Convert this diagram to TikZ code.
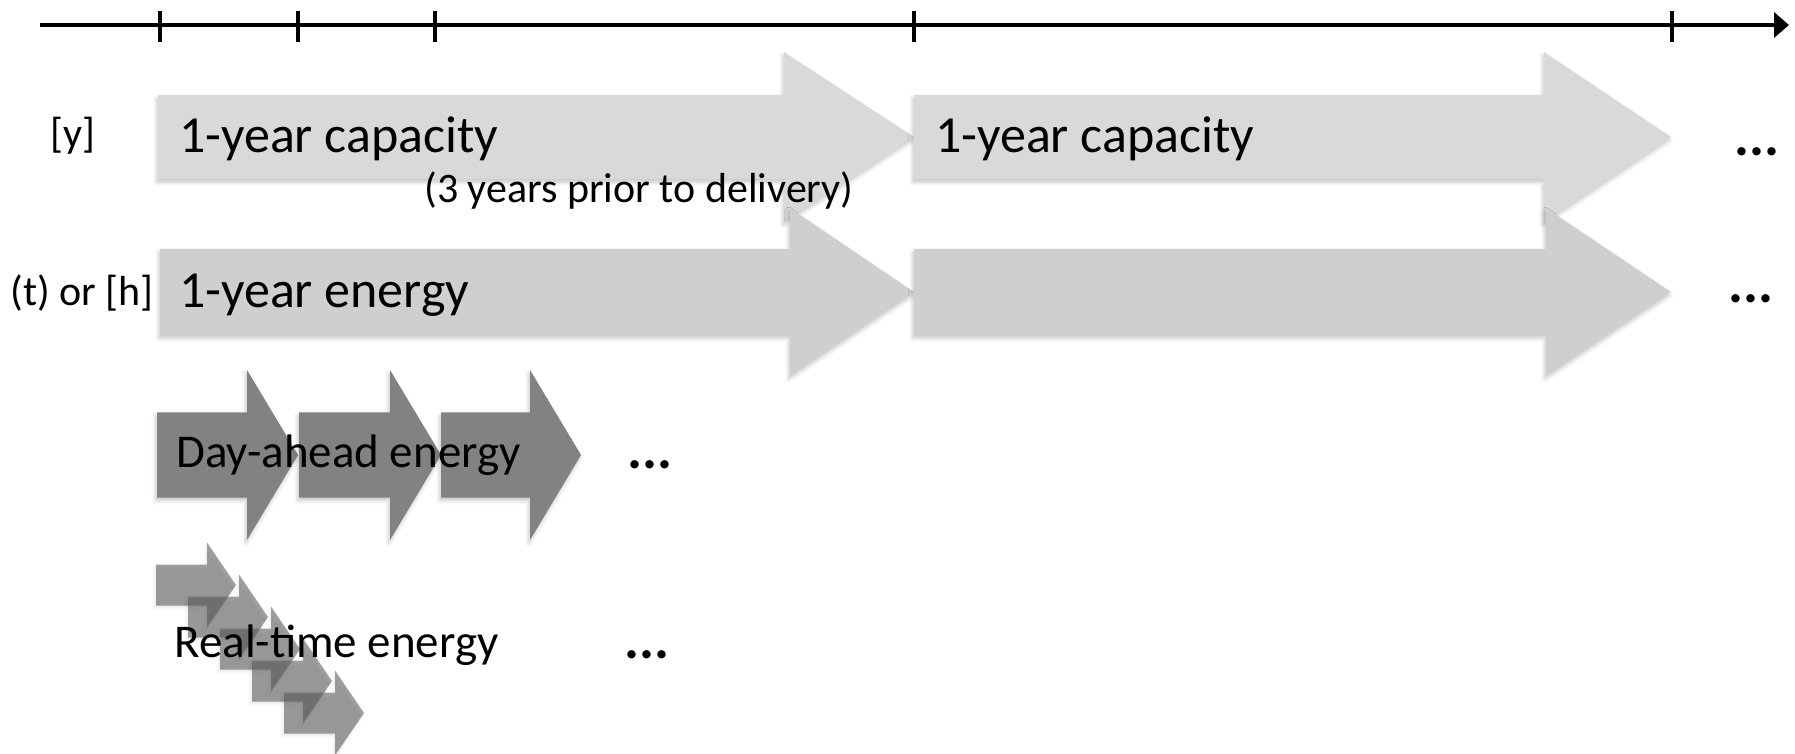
\documentclass[tikz,border=0pt]{standalone}
\usepackage{fontspec}
\setmainfont{Carlito}
\usetikzlibrary{shadows.blur,arrows.meta}

\definecolor{capgray}{HTML}{D9D9D9}
\definecolor{enggray}{HTML}{CFCFCF}
\definecolor{dagray}{HTML}{828282}
\definecolor{rtgray}{HTML}{5A5A5A}

% block arrow: style, x start, x head base, x tip, y centre, body half-height, head half-height
\newcommand{\blockarrow}[7]{%
  \fill[#1] (#2,{#5-#6}) -- (#3,{#5-#6}) -- (#3,{#5-#7}) -- (#4,#5)
    -- (#3,{#5+#7}) -- (#3,{#5+#6}) -- (#2,{#5+#6}) -- cycle;}

\tikzset{
  softshadow/.style={blur shadow={shadow xshift=-0.6pt, shadow yshift=-1.6pt,
      shadow blur radius=2pt, shadow opacity=22}},
  lightshadow/.style={blur shadow={shadow xshift=-0.5pt, shadow yshift=-1.2pt,
      shadow blur radius=1.5pt, shadow opacity=10}},
  caparrow/.style={fill=capgray, softshadow},
  engarrow/.style={fill=enggray, softshadow},
  daarrow/.style={fill=dagray, softshadow},
  rtarrow/.style={fill=rtgray, fill opacity=0.56, lightshadow},
  txt/.style={anchor=base west, inner sep=0pt, text=black},
  bigtxt/.style={txt, font=\fontsize{26}{31}\selectfont},
  midtxt/.style={txt, font=\fontsize{23.5}{28}\selectfont},
  lbltxt/.style={txt, font=\fontsize{21}{25}\selectfont},
  subtxt/.style={txt, font=\fontsize{21}{25}\selectfont},
  dotstxt/.style={txt, font=\bfseries\fontsize{28}{32}\selectfont},
  axisline/.style={line width=2.2pt, -{Triangle[length=7.5pt, width=12.5pt]}},
  tickline/.style={line width=2pt},
}

\begin{document}
\begin{tikzpicture}[x=0.5pt, y=-0.5pt]
  \useasboundingbox (0,0) rectangle (1795,754);

  % time axis with ticks
  \coordinate (axL) at (40,25);
  \coordinate (axR) at (1789,25);
  \draw[axisline] (axL) -- (axR);
  \foreach \tx in {160,298,435,914,1672}{
    \draw[tickline] (\tx,11) -- (\tx,42);
  }

  % yearly capacity products
  \blockarrow{caparrow}{158}{784}{914}{137}{42}{85}
  \blockarrow{caparrow}{914}{1544}{1671}{137}{42}{85}

  % yearly energy products
  \blockarrow{engarrow}{160}{790}{914}{292}{43}{84}
  \blockarrow{engarrow}{914}{1546}{1671}{292}{43}{84}

  % day-ahead products
  \blockarrow{daarrow}{157}{247}{298}{455}{42.5}{85}
  \blockarrow{daarrow}{299}{390}{441}{455}{42.5}{85}
  \blockarrow{daarrow}{441}{530}{581}{455}{42.5}{85}

  % real-time products
  \foreach \k in {0,...,4}{
    \blockarrow{rtarrow}{156+32*\k}{207+32*\k}{236+32*\k}{585+32*\k}{20.5}{42.5}
  }

  % row labels
  \node[lbltxt] (lblY) at (50,148) {[y]};
  \node[lbltxt] (lblTH) at (10,306) {(t) or [h]};

  % product labels
  \node[bigtxt] (capA) at (179,153) {1-year capacity};
  \node[bigtxt] (capB) at (935,153) {1-year capacity};
  \node[subtxt] (capNote) at (424,203) {(3 years prior to delivery)};
  \node[bigtxt] (engA) at (179,308) {1-year energy};
  \node[midtxt] (dayAhead) at (176,467) {Day-ahead energy};
  \node[midtxt] (realTime) at (174,657) {Real-time energy};

  % continuation marks
  \node[dotstxt] (dotsCap) at (1734,156) {...};
  \node[dotstxt] (dotsEng) at (1728,303) {...};
  \node[dotstxt] (dotsDA) at (627,468) {...};
  \node[dotstxt] (dotsRT) at (624,658) {...};
\end{tikzpicture}
\end{document}
